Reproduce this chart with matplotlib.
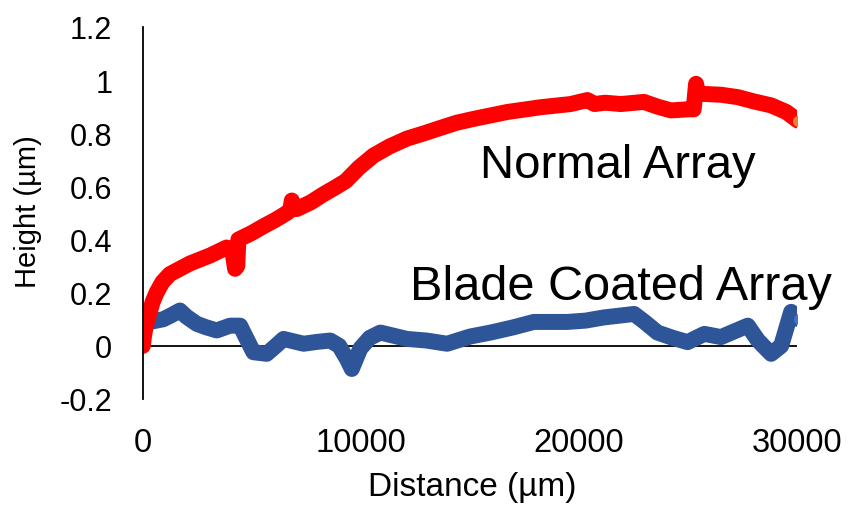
import matplotlib.pyplot as plt

plt.rcParams['font.family'] = ['Liberation Sans', 'DejaVu Sans']

# Normal Array profile
normal_x = [0, 60, 150, 322, 450, 629, 900, 1240, 1700, 2160, 3080, 3840,
            4100, 4230, 4330, 4380, 5000, 5530, 6100, 6600, 6760, 6830, 6900,
            7060, 7700, 8270, 8800, 9300, 9900, 10570, 11300, 12110, 12900,
            13640, 14400, 15160, 16700, 18240, 19610, 20380, 20700, 21200,
            21910, 22970, 23600, 24210, 24970, 25250, 25360, 25450, 25720,
            26500, 27270, 28000, 28800, 29500, 30020]
normal_y = [0.0, 0.04, 0.08, 0.128, 0.165, 0.20, 0.24, 0.27, 0.29, 0.31,
            0.34, 0.37, 0.36, 0.29, 0.30, 0.40, 0.425, 0.45, 0.475, 0.50,
            0.51, 0.547, 0.52, 0.515, 0.54, 0.57, 0.595, 0.62, 0.67, 0.716,
            0.75, 0.78, 0.80, 0.82, 0.84, 0.854, 0.88, 0.898, 0.91, 0.925,
            0.91, 0.915, 0.91, 0.918, 0.90, 0.886, 0.89, 0.89, 0.986, 0.95,
            0.948, 0.945, 0.936, 0.92, 0.905, 0.88, 0.848]

# Blade Coated Array profile
blade_x = [322, 936, 1300, 1700, 2000, 2470, 2900, 3390, 4000, 4460, 4800,
           5070, 5680, 6100, 6450, 7370, 8000, 8590, 9000, 9360, 9580, 9970,
           10400, 10890, 12110, 13000, 13950, 15000, 15940, 17000, 17920,
           19450, 20300, 21140, 22520, 23000, 23590, 24300, 24970, 25740,
           26500, 27730, 28200, 28800, 29260, 29720, 30080]
blade_y = [0.09, 0.10, 0.115, 0.133, 0.11, 0.083, 0.07, 0.058, 0.076, 0.076,
           0.02, -0.024, -0.03, 0.0, 0.026, 0.008, 0.015, 0.02, 0.0, -0.05,
           -0.087, -0.01, 0.03, 0.05, 0.026, 0.02, 0.008, 0.035, 0.05, 0.07,
           0.09, 0.09, 0.095, 0.107, 0.12, 0.09, 0.05, 0.03, 0.014, 0.045,
           0.033, 0.076, 0.02, -0.03, 0.0, 0.128, 0.10]

xticks = [0, 10000, 20000, 30000]
yticks = [-0.2, 0, 0.2, 0.4, 0.6, 0.8, 1, 1.2]
ytick_labels = ['-0.2', '0', '0.2', '0.4', '0.6', '0.8', '1', '1.2']

fig = plt.figure(figsize=(8.5, 5.06), dpi=100)
ax = fig.add_axes([0.168, 0.2095, 0.770, 0.7352])

ax.axhline(0, color='black', lw=1.3, zorder=1)
ax.plot(blade_x, blade_y, color='#2E5597', lw=11.5, solid_capstyle='round',
        solid_joinstyle='round', zorder=2)
ax.plot(blade_x[-1:], blade_y[-1:], 'o', color='#4472C4', ms=7, zorder=3)
ax.plot(normal_x, normal_y, color='#FF0000', lw=11.5, solid_capstyle='round',
        solid_joinstyle='round', zorder=2)
ax.plot(normal_x[-1:], normal_y[-1:], 'o', color='#ED7D31', ms=7, zorder=3)

ax.set_xlim(0, 30000)
ax.set_ylim(-0.2, 1.2)
ax.set_xticks(xticks)
ax.set_xticklabels([str(t) for t in xticks])
ax.set_yticks(yticks)
ax.set_yticklabels(ytick_labels)
ax.tick_params(length=0)
ax.tick_params(axis='y', pad=22, labelsize=22)
ax.tick_params(axis='x', pad=20, labelsize=23.5)

for s in ['top', 'right', 'bottom']:
    ax.spines[s].set_visible(False)
ax.spines['left'].set_linewidth(1.3)

ax.text(15460, 0.636, 'Normal Array', fontsize=34, ha='left', va='baseline')
ax.text(12250, 0.177, 'Blade Coated Array', fontsize=35, ha='left',
        va='baseline')

fig.text(472/850, 1 - 488/506, 'Distance (\u00b5m)', fontsize=24,
         ha='center', va='center')
fig.text(28/850, 1 - 212/506, 'Height (\u00b5m)', fontsize=21,
         ha='center', va='center', rotation=90)

fig.savefig('out.png', dpi=100)
plt.close(fig)
